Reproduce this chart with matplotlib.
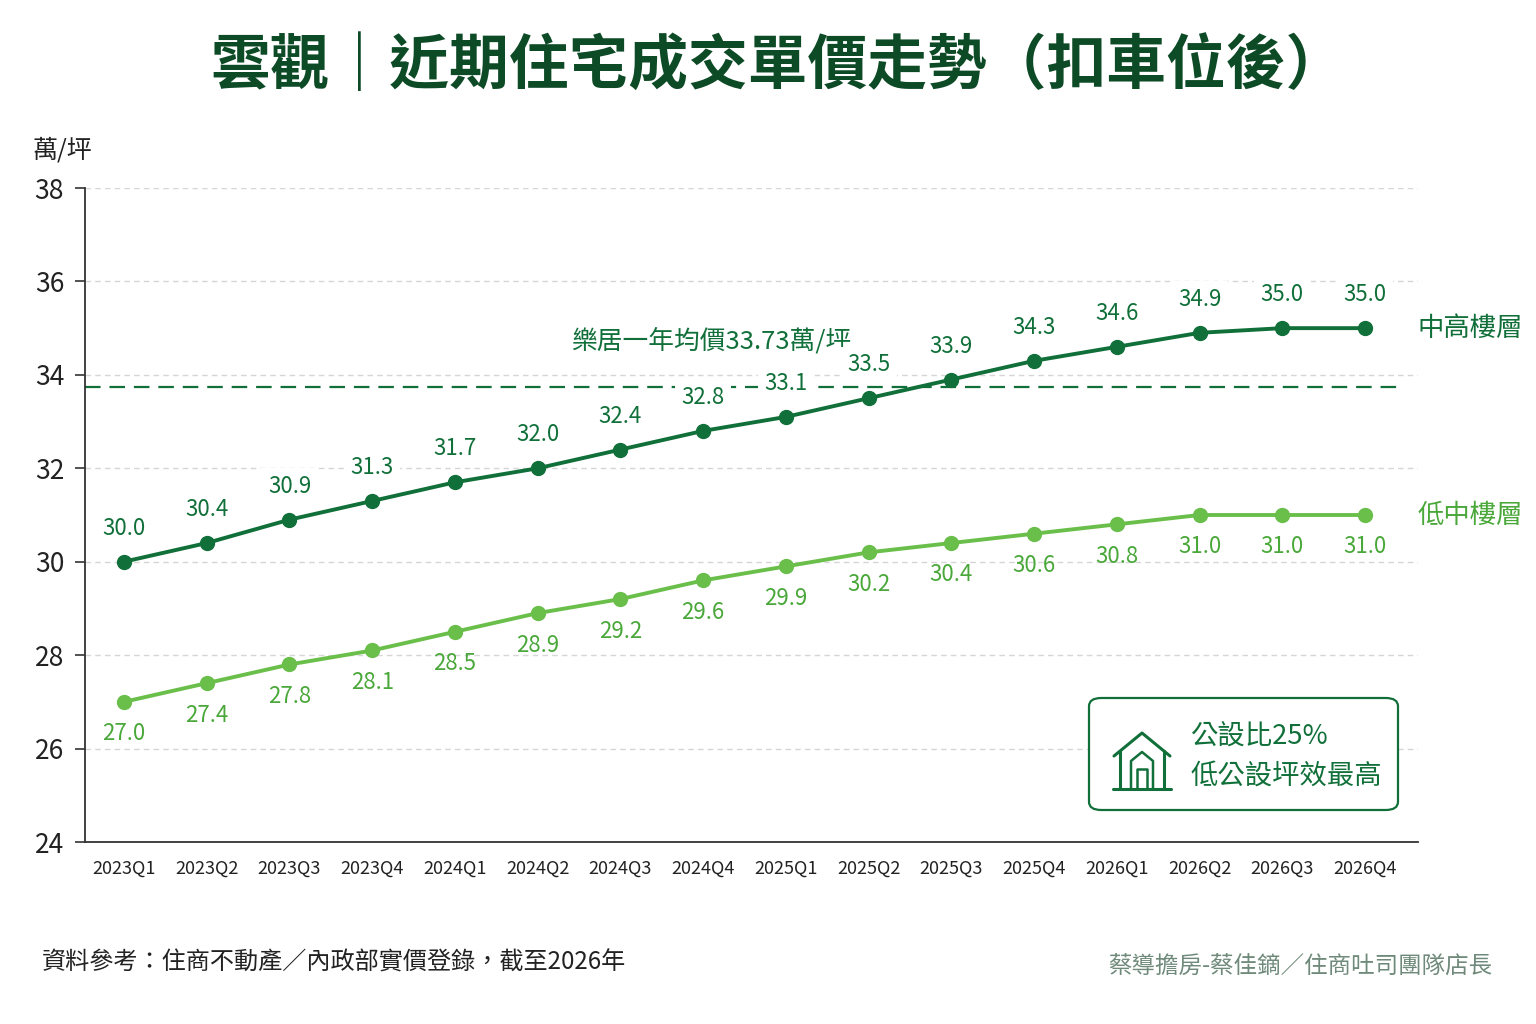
import matplotlib
matplotlib.use('Agg')
import matplotlib.pyplot as plt
from matplotlib.patches import FancyBboxPatch
from matplotlib.lines import Line2D

plt.rcParams['font.family'] = ['Noto Sans CJK TC', 'DejaVu Sans']

# data
quarters = ['2023Q1', '2023Q2', '2023Q3', '2023Q4', '2024Q1', '2024Q2', '2024Q3', '2024Q4',
            '2025Q1', '2025Q2', '2025Q3', '2025Q4', '2026Q1', '2026Q2', '2026Q3', '2026Q4']
mid_high = [30.0, 30.4, 30.9, 31.3, 31.7, 32.0, 32.4, 32.8, 33.1, 33.5, 33.9, 34.3, 34.6, 34.9, 35.0, 35.0]
low_mid = [27.0, 27.4, 27.8, 28.1, 28.5, 28.9, 29.2, 29.6, 29.9, 30.2, 30.4, 30.6, 30.8, 31.0, 31.0, 31.0]
avg_price = 33.73
yticks = [24, 26, 28, 30, 32, 34, 36, 38]

DARK = '#11703a'
LIGHT = '#6abf4b'
LIGHT_TXT = '#4aa83a'
TITLE = '#0d4a26'

W, H = 1536, 1024
fig = plt.figure(figsize=(W / 100, H / 100), dpi=100)
fig.patch.set_facecolor('white')


def fx(x):
    return x / W


def fy(y):
    return 1 - y / H


ax = fig.add_axes([fx(85), fy(842), fx(1418 - 85), (842 - 188) / H])
x = list(range(len(quarters)))
ax.set_xlim(-0.471, 15.64)
ax.set_ylim(24, 38)

ax.set_yticks(yticks)
ax.set_xticks(x)
ax.set_xticklabels(quarters)
ax.tick_params(axis='y', labelsize=19, length=7, width=1.2, color='#333333', labelcolor='#222222', pad=8)
ax.tick_params(axis='x', labelsize=13, length=0, labelcolor='#222222', pad=13)
for s in ['top', 'right']:
    ax.spines[s].set_visible(False)
for s in ['left', 'bottom']:
    ax.spines[s].set_color('#333333')
    ax.spines[s].set_linewidth(1.3)
ax.grid(axis='y', color='#d6d6d6', linestyle=(0, (4, 3)), linewidth=1)
ax.set_axisbelow(True)

# average line
ax.axhline(avg_price, xmin=0, xmax=(1398 - 85) / (1418 - 85), color=DARK,
           linestyle=(0, (7, 4)), linewidth=1.6, zorder=1)
ax.text(7.1, avg_price + 1.0, '樂居一年均價33.73萬/坪', color=DARK, fontsize=18.5,
        ha='center', va='center')

ax.plot(x, mid_high, color=DARK, linewidth=2.8, marker='o', markersize=10, zorder=4)
ax.plot(x, low_mid, color=LIGHT, linewidth=2.8, marker='o', markersize=10, zorder=4)

for xi, v in zip(x, mid_high):
    ax.annotate(f'{v:.1f}', (xi, v), xytext=(0, 24), textcoords='offset points',
                ha='center', va='center', fontsize=16, color=DARK, zorder=3,
                bbox=dict(boxstyle='square,pad=0.3', fc='white', ec='none'))
for xi, v in zip(x, low_mid):
    ax.annotate(f'{v:.1f}', (xi, v), xytext=(0, -23), textcoords='offset points',
                ha='center', va='center', fontsize=16, color=LIGHT_TXT, zorder=3)

lab_x = 15 + (1417 - 1365) / 82.73
ax.text(lab_x, mid_high[-1], '中高樓層', fontsize=19, color=DARK, ha='left', va='center',
        clip_on=False)
ax.text(lab_x, low_mid[-1], '低中樓層', fontsize=19, color=LIGHT_TXT, ha='left', va='center',
        clip_on=False)

# title / unit / footer
fig.text(fx(778), fy(67), '雲觀｜近期住宅成交單價走勢（扣車位後）', fontsize=43, fontweight='heavy',
         color=TITLE, ha='center', va='center')
fig.text(fx(33), fy(150), '萬/坪', fontsize=18, color='#222222', ha='left', va='center')
fig.text(fx(42), fy(963), '資料參考：住商不動產／內政部實價登錄，截至2026年', fontsize=17.4,
         color='#222222', ha='left', va='center')
fig.text(fx(1492), fy(966), '蔡導擔房-蔡佳鏑／住商吐司團隊店長', fontsize=16.9,
         color='#6f8a7a', ha='right', va='center')

# info box
box = FancyBboxPatch((fx(1089), fy(810)), fx(1398 - 1089), (810 - 698) / H,
                     boxstyle='round,pad=0,rounding_size=0.008', transform=fig.transFigure,
                     fc='white', ec=DARK, lw=1.6, zorder=5)
fig.patches.append(box)
fig.text(fx(1191), fy(736), '公設比25%', fontsize=19.7, color=DARK, ha='left', va='center', zorder=6)
fig.text(fx(1191), fy(776), '低公設坪效最高', fontsize=19.7, color=DARK, ha='left', va='center', zorder=6)

# house icon
def seg(pts, lw=2.2):
    xs = [fx(p[0]) for p in pts]
    ys = [fy(p[1]) for p in pts]
    fig.lines.append(Line2D(xs, ys, transform=fig.transFigure, color=DARK, lw=lw,
                            solid_capstyle='round', solid_joinstyle='round', zorder=7))

seg([(1114, 756), (1142, 733), (1170, 756)])
seg([(1120, 751), (1120, 788)])
seg([(1164, 751), (1164, 788)])
seg([(1113, 789), (1171, 789)])
seg([(1131, 788), (1131, 761), (1142, 752), (1153, 761), (1153, 788)], lw=1.8)
seg([(1137, 788), (1137, 769), (1147, 769), (1147, 788)], lw=1.8)
fig.text(fx(1162), fy(728), '✦', fontsize=14, color=DARK, ha='center', va='center',
         family=['DejaVu Sans'])
fig.text(fx(1111), fy(776), '✦', fontsize=10, color=DARK, ha='center', va='center',
         family=['DejaVu Sans'])

fig.savefig('out.png', dpi=100, facecolor='white')
